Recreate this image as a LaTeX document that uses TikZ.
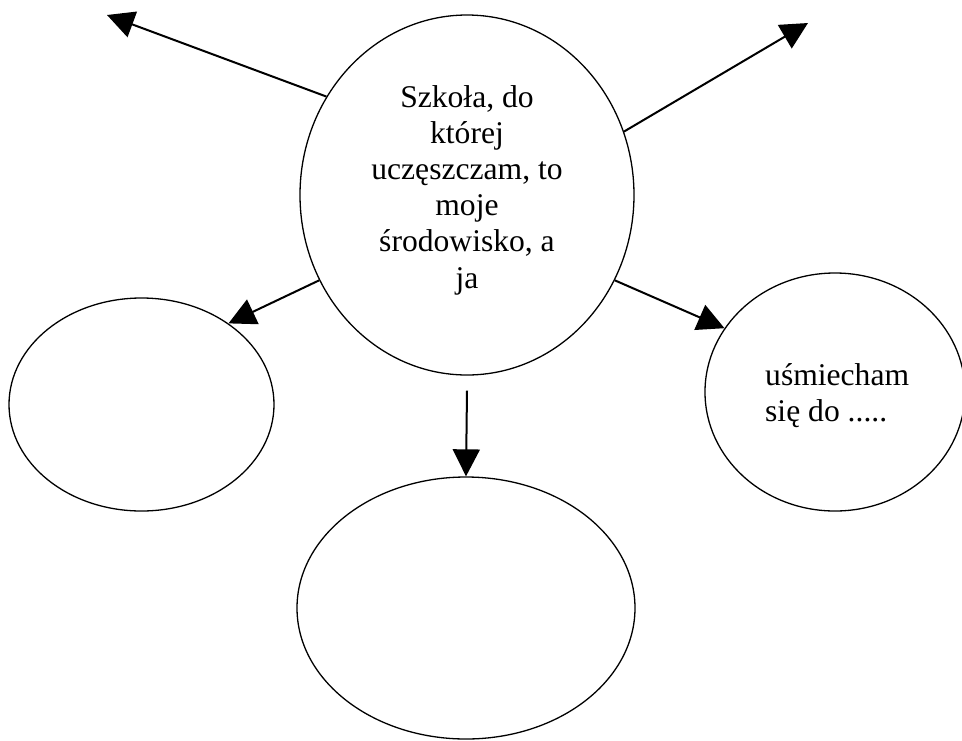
\documentclass[tikz,border=0pt]{standalone}
\usepackage{fontspec}
\setmainfont{Liberation Serif}
\usetikzlibrary{shapes.geometric,arrows.meta}

\begin{document}
\begin{tikzpicture}[x=1pt,y=-1pt,
	every node/.style={inner sep=0pt,font=\fontsize{31.6}{36.2}\selectfont},
	oval/.style={draw,ellipse,line width=1.3pt},
	arr/.style={line width=2pt,-{Triangle[length=27pt,width=27pt]}}]
	\useasboundingbox (0,0) rectangle (962,740);

	\node[oval,minimum width=334pt,minimum height=360pt] (s) at (467,195) {};
	\node[oval,minimum width=265pt,minimum height=213pt] (l) at (141.5,404.5) {};
	\node[oval,minimum width=338pt,minimum height=262pt] (d) at (466,608) {};
	\node[oval,minimum width=260pt,minimum height=238pt] (r) at (835,392) {};

	\node[align=center] (t) at (467,190) {Szkoła, do\\której\\uczęszczam, to\\moje\\środowisko, a\\ja};
	\node[align=left,anchor=west] (u) at (765,396) {uśmiecham\\się do .....};

	\coordinate (a) at (107,15);
	\coordinate (b) at (808,23);

	\draw[arr] (s.145) -- (a);
	\draw[arr] (s.22) -- (b);
	\draw[arr] (s.210) -- (l.43);
	\draw[arr] (s.330) -- (r.150);
	\draw[arr] ([yshift=-15pt]s.south) -- (d.north);
\end{tikzpicture}
\end{document}
